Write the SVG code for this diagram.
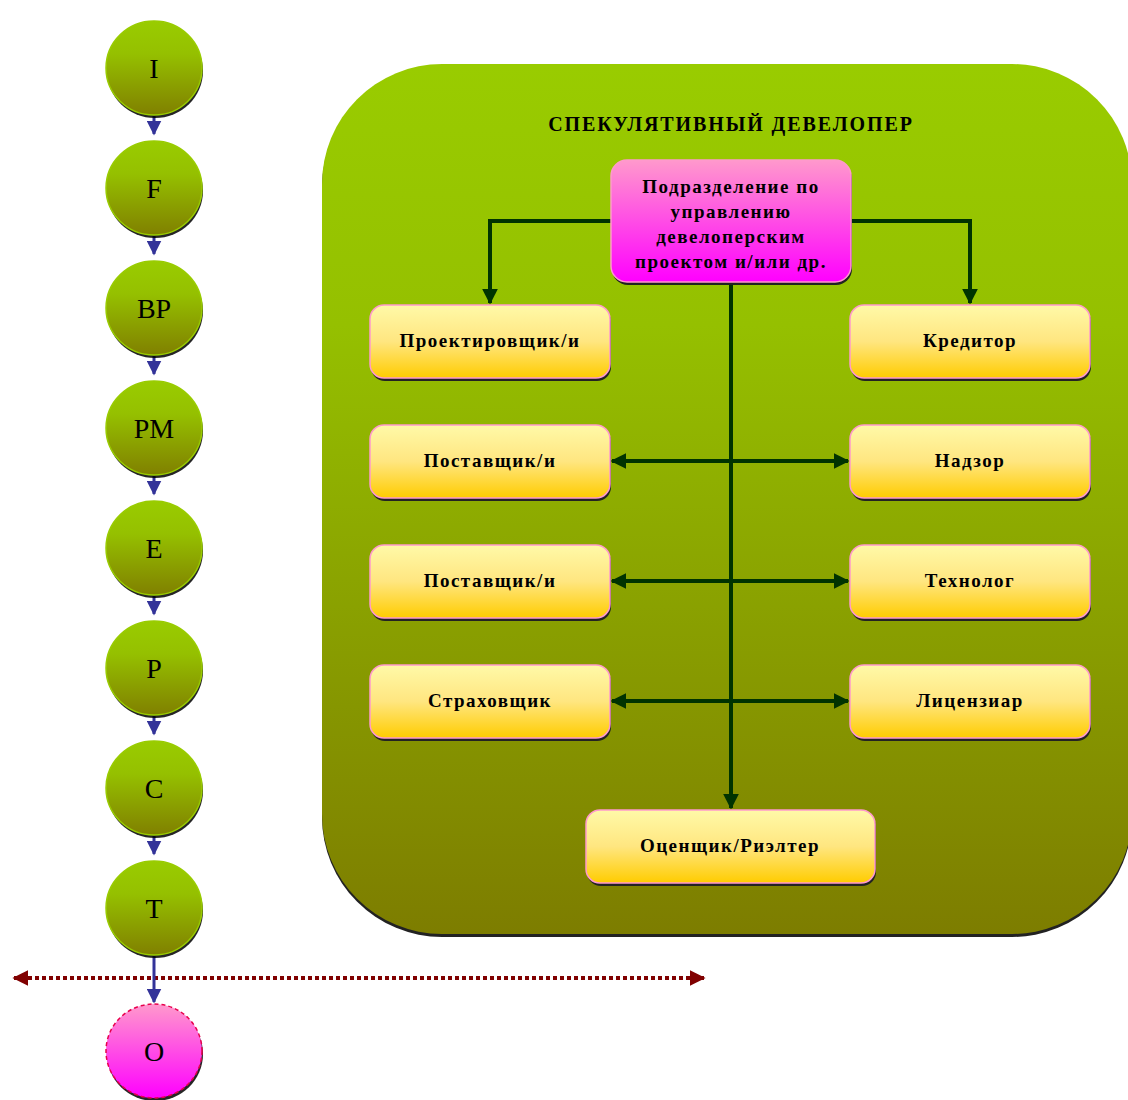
<svg xmlns="http://www.w3.org/2000/svg" width="1128" height="1100" viewBox="0 0 1128 1100">
<defs>
<linearGradient id="gBig" x1="0" y1="0" x2="0" y2="1"><stop offset="0" stop-color="#99CC00"/><stop offset="0.3" stop-color="#95C000"/><stop offset="1" stop-color="#7D7D00"/></linearGradient>
<linearGradient id="gCirc" x1="0" y1="0" x2="0" y2="1"><stop offset="0" stop-color="#99CC00"/><stop offset="0.35" stop-color="#95C000"/><stop offset="1" stop-color="#808000"/></linearGradient>
<linearGradient id="gPink" x1="0" y1="0" x2="0" y2="1"><stop offset="0" stop-color="#FF99CC"/><stop offset="1" stop-color="#FF00FF"/></linearGradient>
<linearGradient id="gBox" x1="0" y1="0" x2="0" y2="1"><stop offset="0" stop-color="#FFF9A8"/><stop offset="0.5" stop-color="#FFE680"/><stop offset="1" stop-color="#FFCC00"/></linearGradient>
<marker id="aG" viewBox="0 0 10 10" refX="9" refY="5" markerWidth="4" markerHeight="4" orient="auto-start-reverse" markerUnits="strokeWidth"><path d="M0,0 L10,5 L0,10 z" fill="#003300"/></marker>
<marker id="aB" viewBox="0 0 10 10" refX="9" refY="5" markerWidth="5" markerHeight="5" orient="auto" markerUnits="strokeWidth"><path d="M0,0 L10,5 L0,10 z" fill="#333399"/></marker>
<marker id="aR" viewBox="0 0 10 10" refX="9" refY="5" markerWidth="4" markerHeight="4" orient="auto-start-reverse" markerUnits="strokeWidth"><path d="M0,0 L10,5 L0,10 z" fill="#800000"/></marker>
</defs>
<style>
.circ{fill:url(#gCirc);stroke:#99CC00;stroke-width:1.5}
.sh{fill:#000;opacity:0.85}
.ct{font-family:"Liberation Serif",serif;font-size:28px;fill:#000;text-anchor:middle}
.box{fill:url(#gBox);stroke:#FF99CC;stroke-width:1.5}
.bsh{fill:#222}
.bt{font-family:"Liberation Serif",serif;font-size:19px;letter-spacing:1.5px;font-weight:bold;fill:#000;text-anchor:middle}
.cg{stroke:#003300;stroke-width:4;fill:none}
.cb{stroke:#333399;stroke-width:3;fill:none}
</style>
<rect width="1128" height="1100" fill="#fff"/>
<g id="container">
<rect x="322" y="67" width="810" height="870" rx="120" ry="120" fill="#222"/>
<rect x="322" y="64" width="810" height="870" rx="120" ry="120" fill="url(#gBig)"/>
<text x="731" y="131" class="bt" style="font-size:20px;letter-spacing:1.9px">СПЕКУЛЯТИВНЫЙ  ДЕВЕЛОПЕР</text>
</g>
<g id="connectors">
<path class="cb" d="M154,116 V134" marker-end="url(#aB)"/>
<path class="cb" d="M154,236 V254" marker-end="url(#aB)"/>
<path class="cb" d="M154,356 V374" marker-end="url(#aB)"/>
<path class="cb" d="M154,476 V494" marker-end="url(#aB)"/>
<path class="cb" d="M154,596 V614" marker-end="url(#aB)"/>
<path class="cb" d="M154,716 V734" marker-end="url(#aB)"/>
<path class="cb" d="M154,836 V854" marker-end="url(#aB)"/>
<path stroke="#800000" stroke-width="4" stroke-dasharray="4,3" fill="none" d="M14,978 H704" marker-start="url(#aR)" marker-end="url(#aR)"/>
<path class="cb" d="M154,956 V1002" marker-end="url(#aB)"/>
<path class="cg" d="M611,221 H490 V303" marker-end="url(#aG)"/>
<path class="cg" d="M851,221 H970 V303" marker-end="url(#aG)"/>
<path class="cg" d="M731,283 V808" marker-end="url(#aG)"/>
<path class="cg" d="M612,461 H848" marker-start="url(#aG)" marker-end="url(#aG)"/>
<path class="cg" d="M612,581 H848" marker-start="url(#aG)" marker-end="url(#aG)"/>
<path class="cg" d="M612,701 H848" marker-start="url(#aG)" marker-end="url(#aG)"/>
</g>
<g id="n-I"><ellipse class="sh" cx="155" cy="71" rx="48" ry="47"/><ellipse class="circ" cx="154" cy="68" rx="48" ry="47"/><text class="ct" x="154" y="78">I</text></g>
<g id="n-F"><ellipse class="sh" cx="155" cy="191" rx="48" ry="47"/><ellipse class="circ" cx="154" cy="188" rx="48" ry="47"/><text class="ct" x="154" y="198">F</text></g>
<g id="n-BP"><ellipse class="sh" cx="155" cy="311" rx="48" ry="47"/><ellipse class="circ" cx="154" cy="308" rx="48" ry="47"/><text class="ct" x="154" y="318">BP</text></g>
<g id="n-PM"><ellipse class="sh" cx="155" cy="431" rx="48" ry="47"/><ellipse class="circ" cx="154" cy="428" rx="48" ry="47"/><text class="ct" x="154" y="438">PM</text></g>
<g id="n-E"><ellipse class="sh" cx="155" cy="551" rx="48" ry="47"/><ellipse class="circ" cx="154" cy="548" rx="48" ry="47"/><text class="ct" x="154" y="558">E</text></g>
<g id="n-P"><ellipse class="sh" cx="155" cy="671" rx="48" ry="47"/><ellipse class="circ" cx="154" cy="668" rx="48" ry="47"/><text class="ct" x="154" y="678">P</text></g>
<g id="n-C"><ellipse class="sh" cx="155" cy="791" rx="48" ry="47"/><ellipse class="circ" cx="154" cy="788" rx="48" ry="47"/><text class="ct" x="154" y="798">C</text></g>
<g id="n-T"><ellipse class="sh" cx="155" cy="911" rx="48" ry="47"/><ellipse class="circ" cx="154" cy="908" rx="48" ry="47"/><text class="ct" x="154" y="918">T</text></g>
<g id="n-O"><ellipse class="sh" cx="155" cy="1054" rx="48" ry="47"/><ellipse cx="154" cy="1051" rx="48" ry="47" fill="url(#gPink)" stroke="#E8004C" stroke-width="1.5" stroke-dasharray="4,3"/><text class="ct" x="154" y="1061">O</text></g>
<g id="n-mgmt"><rect class="bsh" x="612" y="163" width="240" height="122" rx="16"/><rect x="611" y="160" width="240" height="122" rx="16" fill="url(#gPink)" stroke="#FF99CC" stroke-width="1.5"/>
<text class="bt" x="731" y="193">Подразделение по</text><text class="bt" x="731" y="218">управлению</text><text class="bt" x="731" y="243">девелоперским</text><text class="bt" x="731" y="268">проектом и/или др.</text></g>
<g id="n-proj"><rect class="bsh" x="371" y="308" width="240" height="73" rx="14"/><rect class="box" x="370" y="305" width="240" height="73" rx="14"/><text class="bt" x="490" y="347">Проектировщик/и</text></g>
<g id="n-kred"><rect class="bsh" x="851" y="308" width="240" height="73" rx="14"/><rect class="box" x="850" y="305" width="240" height="73" rx="14"/><text class="bt" x="970" y="347">Кредитор</text></g>
<g id="n-post1"><rect class="bsh" x="371" y="428" width="240" height="73" rx="14"/><rect class="box" x="370" y="425" width="240" height="73" rx="14"/><text class="bt" x="490" y="467">Поставщик/и</text></g>
<g id="n-nadzor"><rect class="bsh" x="851" y="428" width="240" height="73" rx="14"/><rect class="box" x="850" y="425" width="240" height="73" rx="14"/><text class="bt" x="970" y="467">Надзор</text></g>
<g id="n-post2"><rect class="bsh" x="371" y="548" width="240" height="73" rx="14"/><rect class="box" x="370" y="545" width="240" height="73" rx="14"/><text class="bt" x="490" y="587">Поставщик/и</text></g>
<g id="n-tech"><rect class="bsh" x="851" y="548" width="240" height="73" rx="14"/><rect class="box" x="850" y="545" width="240" height="73" rx="14"/><text class="bt" x="970" y="587">Технолог</text></g>
<g id="n-strah"><rect class="bsh" x="371" y="668" width="240" height="73" rx="14"/><rect class="box" x="370" y="665" width="240" height="73" rx="14"/><text class="bt" x="490" y="707">Страховщик</text></g>
<g id="n-lic"><rect class="bsh" x="851" y="668" width="240" height="73" rx="14"/><rect class="box" x="850" y="665" width="240" height="73" rx="14"/><text class="bt" x="970" y="707">Лицензиар</text></g>
<g id="n-ocen"><rect class="bsh" x="587" y="813" width="289" height="73" rx="14"/><rect class="box" x="586" y="810" width="289" height="73" rx="14"/><text class="bt" x="730" y="852">Оценщик/Риэлтер</text></g>
</svg>
